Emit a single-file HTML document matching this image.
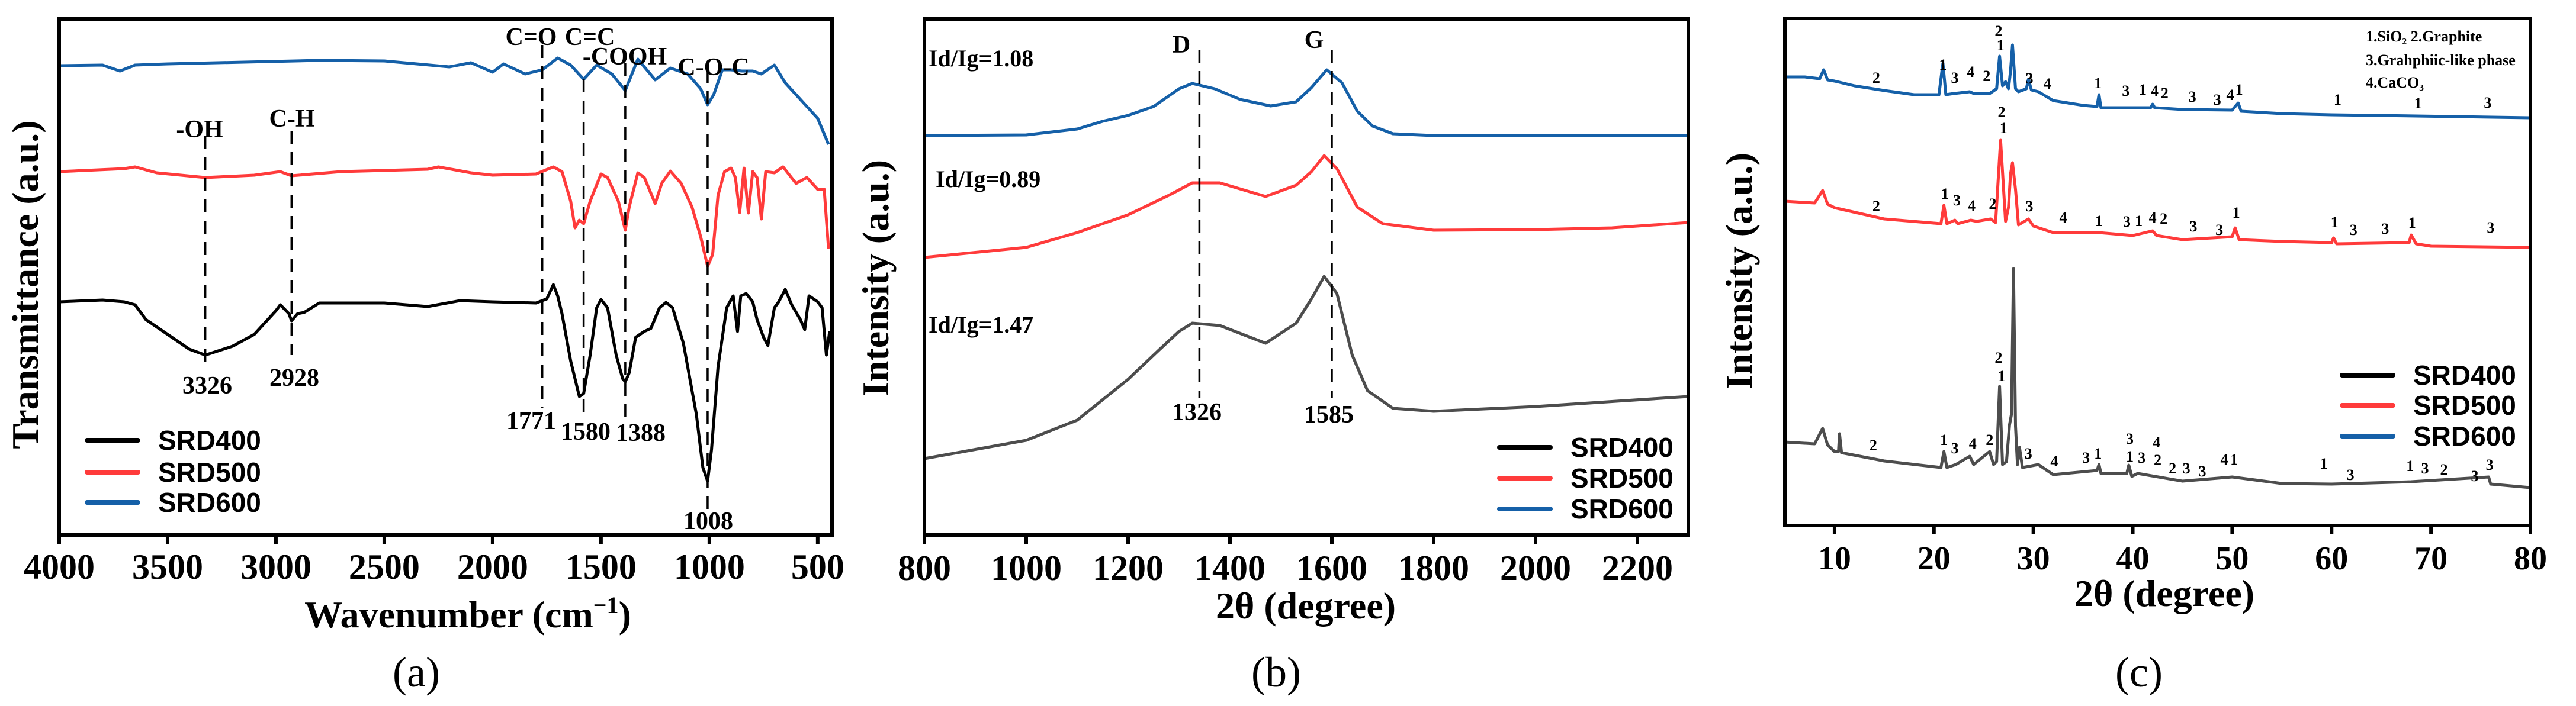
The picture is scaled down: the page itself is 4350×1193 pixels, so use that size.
<!DOCTYPE html>
<html><head><meta charset="utf-8"><style>
body{margin:0;background:#fff;}
svg{display:block;}
text{font-family:"Liberation Serif",serif;font-weight:bold;fill:#000;}
.leg{font-family:"Liberation Sans",sans-serif;font-weight:bold;font-size:46px;}
</style></head><body>
<svg id="fig" xmlns="http://www.w3.org/2000/svg" width="4350" height="1193" viewBox="0 0 4350 1193"></svg>
<script>
// ---------- Panel (a) FTIR: [wavenumber, transmittance a.u.] ----------
const ftirSRD400=[[4000,394],[3800,397],[3700,394],[3650,389],[3600,364],[3500,339],[3400,314],[3326,304],[3200,319],[3100,339],[3000,379],[2980,389],[2940,374],[2928,362],[2900,374],[2870,376],[2800,392],[2500,392],[2300,386],[2150,396],[2000,394],[1800,392],[1750,399],[1720,423],[1700,404],[1680,374],[1640,294],[1600,234],[1580,239],[1550,304],[1520,384],[1500,398],[1470,384],[1430,304],[1400,264],[1388,259],[1370,274],[1340,334],[1300,344],[1270,349],[1230,384],[1200,393],[1170,384],[1120,324],[1060,204],[1030,114],[1008,91],[990,144],[960,284],[920,384],[890,404],[870,344],[855,404],[830,408],[800,394],[780,364],[750,334],[730,320],[700,384],[680,394],[650,415],[620,389],[580,364],[560,347],[540,404],[500,394],[480,384],[460,304],[445,344]];
const ftirSRD500=[[4000,614],[3700,619],[3650,622],[3550,612],[3326,604],[3100,608],[2980,614],[2928,607],[2700,614],[2300,618],[2250,622],[2100,612],[2000,608],[1800,610],[1720,622],[1680,614],[1640,564],[1620,519],[1600,532],[1580,526],[1550,564],[1500,610],[1470,604],[1420,564],[1388,515],[1370,554],[1330,612],[1300,604],[1250,560],[1220,594],[1180,615],[1130,594],[1080,554],[1040,504],[1008,454],[985,474],[960,574],[930,614],[900,620],[880,604],[860,545],[840,620],[820,544],[800,614],[780,604],[760,534],[740,614],[700,612],[660,622],[600,594],[550,604],[500,584],[470,584],[450,484]];
const ftirSRD600=[[4000,793],[3800,794],[3720,784],[3650,794],[3500,796],[2800,802],[2500,801],[2200,791],[2100,798],[2000,782],[1950,796],[1850,779],[1771,786],[1700,806],[1640,794],[1580,770],[1520,794],[1450,779],[1388,751],[1330,804],[1250,769],[1180,789],[1100,779],[1040,754],[1008,727],[980,744],[940,786],[900,786],[850,784],[800,784],[760,779],[700,794],[650,764],[600,744],[550,724],[500,704],[450,660]];
const ftirTicks=[4000,3500,3000,2500,2000,1500,1000,500];

// ---------- Panel (b) Raman: [shift, intensity a.u.] ----------
const ramanSRD400=[[800,129],[1000,160],[1100,194],[1200,263],[1260,312],[1300,344],[1326,358],[1380,354],[1470,324],[1530,358],[1560,399],[1585,437],[1610,408],[1640,304],[1670,244],[1720,214],[1800,209],[2000,217],[2300,234]];
const ramanSRD500=[[800,469],[1000,486],[1100,511],[1200,541],[1280,574],[1326,595],[1380,595],[1470,572],[1530,591],[1560,614],[1585,641],[1610,619],[1650,554],[1700,526],[1800,515],[2000,516],[2150,519],[2300,528]];
const ramanSRD600=[[800,675],[1000,676],[1100,686],[1150,699],[1200,709],[1250,724],[1300,754],[1326,763],[1370,754],[1420,736],[1480,725],[1530,732],[1560,756],[1590,786],[1620,764],[1650,716],[1680,691],[1720,678],[1800,675],[2300,675]];
const ramanTicks=[800,1000,1200,1400,1600,1800,2000,2200];

// ---------- Panel (c) XRD: [2theta, intensity a.u.] ----------
const xrdSRD400=[[5,141],[8,138],[8.8,164],[9.3,136],[10,125],[10.4,125],[10.5,155],[10.7,123],[15,109],[20.7,98],[21,125],[21.3,98],[22.2,103],[23.6,117],[24,103],[25.6,125],[26,103],[26.3,108],[26.6,235],[26.9,103],[27.3,108],[27.6,170],[27.8,188],[28,434],[28.2,168],[28.4,103],[28.6,132],[28.9,98],[30.5,103],[32,86],[36.4,93],[36.6,103],[36.8,88],[39.4,88],[39.6,102],[39.9,83],[40.5,88],[45,75],[50,82],[55,71],[60,70],[68,74],[75.8,82],[76,70],[80,64]];
const xrdSRD500=[[5,548],[8,545],[8.8,566],[9.3,543],[10,537],[15,518],[20.7,510],[21,541],[21.3,510],[22.1,516],[22.4,510],[23.7,516],[24.3,514],[25.7,518],[26.2,512],[26.7,651],[27.2,514],[27.5,538],[27.7,594],[27.9,613],[28.2,568],[28.5,508],[29.5,518],[30,506],[32,495],[36.6,495],[40,490],[42,498],[42.4,490],[45,483],[50,488],[50.3,503],[50.7,483],[55,480],[60,478],[60.2,486],[60.5,476],[67.8,478],[68,491],[68.5,476],[70,472],[80,470]];
const xrdSRD600=[[5,758],[7,758],[8.5,755],[8.9,770],[9.3,753],[10,751],[12,743],[15,735],[18,728],[20.5,728],[20.9,781],[21.2,728],[22,730],[23.6,733],[24,730],[25.6,730],[26.3,738],[26.6,793],[26.9,743],[27.2,750],[27.5,738],[27.7,768],[27.9,812],[28.2,738],[28.5,733],[29.3,738],[29.5,754],[29.8,736],[30.5,733],[32,718],[35,710],[36.4,708],[36.6,728],[36.8,706],[40,706],[41.8,706],[42,712],[42.2,706],[45,703],[50,702],[50.6,714],[50.9,700],[55,696],[60,694],[68.5,692],[80,689]];
const xrdTicks=[10,20,30,40,50,60,70,80];
const xrdLabels600=[[14.2,748,"2"],[20.9,770,"1"],[22.1,748,"3"],[23.7,758,"4"],[25.3,751,"2"],[26.5,827,"2"],[26.7,803,"1"],[29.6,747,"3"],[31.4,738,"4"],[36.5,739,"1"],[39.3,726,"3"],[41,728,"1"],[42.2,726,"4"],[43.2,722,"2"],[46,716,"3"],[48.5,711,"3"],[49.8,719,"4"],[50.7,728,"1"],[60.6,711,"1"],[68.7,705,"1"],[75.7,706,"3"]];
const xrdLabels500=[[14.2,531,"2"],[21.1,552,"1"],[22.3,541,"3"],[23.8,532,"4"],[25.9,535,"2"],[26.8,690,"2"],[27,663,"1"],[29.6,531,"3"],[33,512,"4"],[36.6,506,"1"],[39.4,505,"3"],[40.6,506,"1"],[42,512,"4"],[43.1,510,"2"],[46.1,497,"3"],[48.7,491,"3"],[50.4,520,"1"],[60.3,504,"1"],[62.2,491,"3"],[65.4,493,"3"],[68.1,503,"1"],[76,495,"3"]];
const xrdLabels400=[[13.9,127,"2"],[21,136,"1"],[22.1,122,"3"],[23.9,130,"4"],[25.6,136,"2"],[26.5,275,"2"],[26.8,244,"1"],[29.5,113,"3"],[32.1,100,"4"],[35.3,106,"3"],[36.5,113,"1"],[39.7,138,"3"],[39.7,108,"1"],[40.9,106,"3"],[42.4,132,"4"],[42.5,102,"2"],[44,88,"2"],[45.4,88,"3"],[47,83,"3"],[49.2,103,"4"],[50.2,103,"1"],[59.2,96,"1"],[61.9,77,"3"],[67.9,92,"1"],[69.4,88,"3"],[71.3,86,"2"],[74.4,75,"3"],[75.9,94,"3"]];

const NS="http://www.w3.org/2000/svg";
const svg=document.getElementById('fig');
function mk(tag,attrs,parent,txt){const e=document.createElementNS(NS,tag);for(const k in attrs)e.setAttribute(k,attrs[k]);if(txt!==undefined)e.textContent=txt;(parent||svg).appendChild(e);return e;}

function panel(p){
  const g=mk('g',{});
  
  
  const xs=v=>p.L+(v-p.x0)/(p.x1-p.x0)*(p.R-p.L);
  const ys=v=>p.B-(v-p.y0)/(p.y1-p.y0)*(p.B-p.T);
  p.series.forEach(s=>{
    const d=s.data.map((pt,i)=>(i?'L':'M')+xs(pt[0]).toFixed(1)+','+ys(pt[1]).toFixed(1)).join('');
    const path=mk('path',{d:d,fill:'none',stroke:s.color,'stroke-width':5,'stroke-linejoin':'round'},g);
    
    
  });
  (p.dashes||[]).forEach(dl=>{
    const l=mk('line',{x1:xs(dl[0]),x2:xs(dl[0]),y1:dl[1],y2:dl[2],stroke:'#000','stroke-width':3.5,'stroke-dasharray':'22,14'},g);
    
    
  });
  (p.notes||[]).forEach(n=>{
    const t=mk('text',{x:n[0],y:n[1],'font-size':n[3]||42,'text-anchor':n[4]||'middle'},g,n[2]);
    
    
  });
  (p.labels||[]).forEach(set=>set.forEach(lb=>{
    const t=mk('text',{x:xs(lb[0]),y:ys(lb[1]),'font-size':26,'text-anchor':'middle'},g,lb[2]);
    
    
  }));
  const fr=mk('rect',{x:p.L,y:p.T,width:p.R-p.L,height:p.B-p.T,fill:'none',stroke:'#000','stroke-width':6},g);
  
  
  p.ticks.forEach(tv=>{
    const x=xs(tv);
    const tk=mk('line',{x1:x,x2:x,y1:p.B,y2:p.B+15,stroke:'#000','stroke-width':6},g);
    
    
    const tl=mk('text',{x:x,y:p.tickY,'font-size':p.tickFS,'text-anchor':'middle'},g,String(tv));
    
    
  });
  const xt=mk('text',{x:p.xtX,y:p.xtY,'font-size':64,'text-anchor':'middle'},g);
  
  
  xt.innerHTML=p.xtitle;
  const yt=mk('text',{x:0,y:0,'font-size':64,'text-anchor':'middle',transform:`translate(${p.ytX},${p.ytY}) rotate(-90)`},g,p.ytitle);
  
  
  const pl=mk('text',{x:p.plX,y:1160,'font-size':72,style:'font-weight:normal','text-anchor':'middle'},g,p.plabel);
  
  
  p.series.forEach((s,i)=>{
    const y=p.legY[i];
    const ll=mk('line',{x1:p.legX,x2:p.legX+86,y1:y,y2:y,stroke:s.legColor||s.color,'stroke-width':8,'stroke-linecap':'round'},g);
    
    
    const lt=mk('text',{x:p.legX+120,y:y+16,'class':'leg'},g,s.label);
    
    
  });
}

const BLUE='#1560a8',RED='#ff3b3b';
panel({name:'ftir-chart',L:100,R:1405,T:32,B:904,x0:4000,x1:434,y0:0,y1:872,ticks:ftirTicks,tickY:978,tickFS:60,
  xtX:790,xtY:1060,xtitle:'Wavenumber (cm<tspan dy="-24" font-size="40">−1</tspan><tspan dy="24">)</tspan>',ytX:64,ytY:481,ytitle:'Transmittance (a.u.)',plX:703,plabel:'(a)',
  series:[{id:'line-srd400',label:'SRD400',color:'#000',data:ftirSRD400},{id:'line-srd500',label:'SRD500',color:RED,data:ftirSRD500},{id:'line-srd600',label:'SRD600',color:BLUE,data:ftirSRD600}],
  legX:147,legY:[744,798,849],
  dashes:[[3326,229,622],[2928,221,600],[1771,76,690],[1580,134,710],[1388,107,714],[1008,118,862]],
  notes:[[337,232,'-OH'],[493,214,'C-H'],[897,76,'C=O'],[996,76,'C=C'],[1055,109,'-COOH'],[1205,127,'C-O-C'],[350,665,'3326'],[497,652,'2928'],[897,725,'1771'],[989,743,'1580'],[1082,745,'1388'],[1196,894,'1008']]
});
panel({name:'raman-chart',L:1561,R:2851,T:32,B:904,x0:800,x1:2300,y0:0,y1:872,ticks:ramanTicks,tickY:980,tickFS:60,
  xtX:2205,xtY:1045,xtitle:'2θ (degree)',ytX:1500,ytY:470,ytitle:'Intensity (a.u.)',plX:2155,plabel:'(b)',
  series:[{id:'line-srd400',label:'SRD400',color:'#4d4d4d',legColor:'#000',data:ramanSRD400},{id:'line-srd500',label:'SRD500',color:RED,data:ramanSRD500},{id:'line-srd600',label:'SRD600',color:BLUE,data:ramanSRD600}],
  legX:2532,legY:[756,808,860],
  dashes:[[1340,84,672],[1600,84,672]],
  notes:[[1995,89,'D'],[2219,81,'G'],[1568,112,'Id/Ig=1.08',40,'start'],[1580,316,'Id/Ig=0.89',40,'start'],[1568,562,'Id/Ig=1.47',40,'start'],[2021,710,'1326'],[2244,714,'1585']]
});
panel({name:'xrd-chart',L:3014,R:4273,T:31,B:888,x0:5,x1:80,y0:0,y1:857,ticks:xrdTicks,tickY:962,tickFS:56,
  xtX:3655,xtY:1024,xtitle:'2θ (degree)',ytX:2958,ytY:458,ytitle:'Intensity (a.u.)',plX:3612,plabel:'(c)',
  series:[{id:'line-srd400',label:'SRD400',color:'#4d4d4d',legColor:'#000',data:xrdSRD400},{id:'line-srd500',label:'SRD500',color:RED,data:xrdSRD500},{id:'line-srd600',label:'SRD600',color:BLUE,data:xrdSRD600}],
  legX:3955,legY:[634,685,737],
  labels:[xrdLabels600,xrdLabels500,xrdLabels400],
  notes:[[3995,70,'1.SiO₂ 2.Graphite',26,'start'],[3995,110,'3.Grahphiic-like phase',26,'start'],[3995,148,'4.CaCO₃',26,'start']]
});
</script>
</body></html>
